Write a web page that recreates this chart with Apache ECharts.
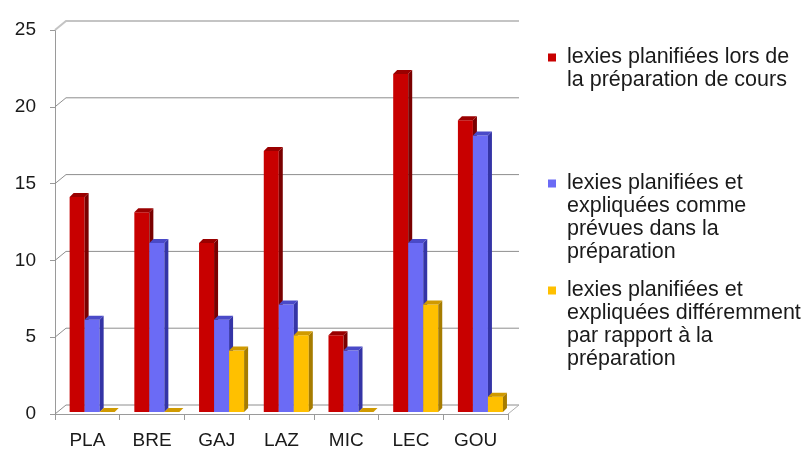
<!DOCTYPE html>
<html>
<head>
<meta charset="utf-8">
<script src="https://cdn.jsdelivr.net/npm/echarts@6/dist/echarts.min.js"></script>
<style>
html,body{margin:0;padding:0;background:#fff;}
#chart{width:812px;height:450px;}
</style>
</head>
<body>
<div id="chart"></div>
<script>
const categories = ['PLA', 'BRE', 'GAJ', 'LAZ', 'MIC', 'LEC', 'GOU'];
const planned = [14, 13, 11, 17, 5, 22, 19];
const asPlanned = [6, 11, 6, 7, 4, 11, 18];
const differently = [0, 0, 4, 5, 0, 7, 1];
const yTicks = [0, 5, 10, 15, 20, 25];
const seriesNames = [
  'lexies planifiées lors de la préparation de cours',
  'lexies planifiées et expliquées comme prévues dans la préparation',
  'lexies planifiées et expliquées différemment par rapport à la préparation'
];
const legendLabels = [
  'lexies planifiées lors de\nla préparation de cours',
  'lexies planifiées et\nexpliquées comme\nprévues dans la\npréparation',
  'lexies planifiées et\nexpliquées différemment\npar rapport à la\npréparation'
];

const palette = [
  {front: '#C80000', side: '#7A0000', top: '#9A0000'},
  {front: '#6B6BF5', side: '#3434A6', top: '#4A4AC8'},
  {front: '#FFC000', side: '#A67C00', top: '#D09A00'}
];
const DX = 4, DY = -4;      // bar depth
const WX = 11, WY = -9;     // wall depth

function barRenderer(sIdx) {
  return function (params, api) {
    const idx = api.value(0), v = api.value(1);
    const band = api.size([1, 0])[0];
    const c0 = api.coord([idx, 0]);
    const c1 = api.coord([idx, v]);
    const w = band * 0.232;
    const left = c0[0] - band * 0.274 + w * sIdx;
    const baseY = c0[1] - 2, topY = c1[1] - 2;
    const col = palette[sIdx];
    return {
      type: 'group',
      children: [
        {type: 'rect', shape: {x: left, y: topY, width: w, height: baseY - topY},
         style: {fill: col.front}},
        {type: 'polygon', shape: {points: [[left + w, topY], [left + w + DX, topY + DY], [left + w + DX, baseY + DY], [left + w, baseY]]},
         style: {fill: col.side}},
        {type: 'polygon', shape: {points: [[left, topY], [left + DX, topY + DY], [left + w + DX, topY + DY], [left + w, topY]]},
         style: {fill: col.top}}
      ]
    };
  };
}

function wallRenderer(params, api) {
  const v = api.value(1);
  const band = api.size([1, 0])[0];
  const c = api.coord([0, v]);
  const left = c[0] - band / 2;
  const right = api.coord([categories.length - 1, v])[0] + band / 2;
  const y = c[1];
  const top = v === yTicks[yTicks.length - 1];
  const children = [{
    type: 'polyline',
    shape: {points: [[left, y], [left + WX, y + WY], [right + WX, y + WY]]},
    style: {stroke: top ? '#C4C4C4' : '#8E8E8E', lineWidth: top ? 2 : 1, fill: null}
  }];
  if (v === 0) {
    children.push({
      type: 'polyline',
      shape: {points: [[right, y], [right + WX, y + WY]]},
      style: {stroke: '#B0B0B0', lineWidth: 1, fill: null}
    });
  }
  return {type: 'group', children: children};
}

const values = [planned, asPlanned, differently];
const font = "'Liberation Sans', Arial, sans-serif";

const legendTops = [46, 172, 279];
const legendHeights = [46, 92, 92];

const option = {
  animation: false,
  backgroundColor: '#fff',
  grid: {left: 55, top: 30, width: 453, height: 384},
  xAxis: {
    type: 'category',
    data: categories,
    boundaryGap: true,
    axisLine: {show: true, lineStyle: {color: '#9A9A9A'}},
    axisTick: {show: true, length: 6, alignWithLabel: false, lineStyle: {color: '#9A9A9A'}},
    axisLabel: {color: '#1A1A1A', fontSize: 19, fontFamily: font, margin: 17},
    splitLine: {show: false}
  },
  yAxis: {
    type: 'value',
    min: 0, max: 25, interval: 5,
    axisLine: {show: true, lineStyle: {color: '#9A9A9A'}},
    axisTick: {show: true, length: 5, lineStyle: {color: '#9A9A9A'}},
    axisLabel: {color: '#1A1A1A', fontSize: 19, fontFamily: font, margin: 19},
    splitLine: {show: false}
  },
  legend: seriesNames.map((n, i) => ({
    data: [n],
    left: 548,
    top: legendTops[i],
    padding: 0,
    orient: 'vertical',
    itemWidth: 14,
    itemHeight: legendHeights[i],
    icon: 'path://M0,0h14 M0,7.5h8v8h-8z M0,' + legendHeights[i] + 'h14',
    itemStyle: {borderWidth: 0},
    formatter: () => legendLabels[i],
    textStyle: {fontSize: 21.5, lineHeight: 23, fontFamily: font, color: '#1A1A1A'},
    selectedMode: false
  })),
  series: [
    {
      type: 'custom',
      name: 'wall',
      z: 1,
      silent: true,
      clip: false,
      renderItem: wallRenderer,
      data: yTicks.map(v => [0, v])
    }
  ].concat(values.map((arr, i) => ({
    type: 'custom',
    name: seriesNames[i],
    z: 2 + i,
    clip: false,
    itemStyle: {color: palette[i].front},
    renderItem: barRenderer(i),
    data: arr.map((v, k) => [k, v])
  })))
};

const chart = echarts.init(document.getElementById('chart'), null, {renderer: 'canvas'});
chart.setOption(option);
</script>
</body>
</html>
